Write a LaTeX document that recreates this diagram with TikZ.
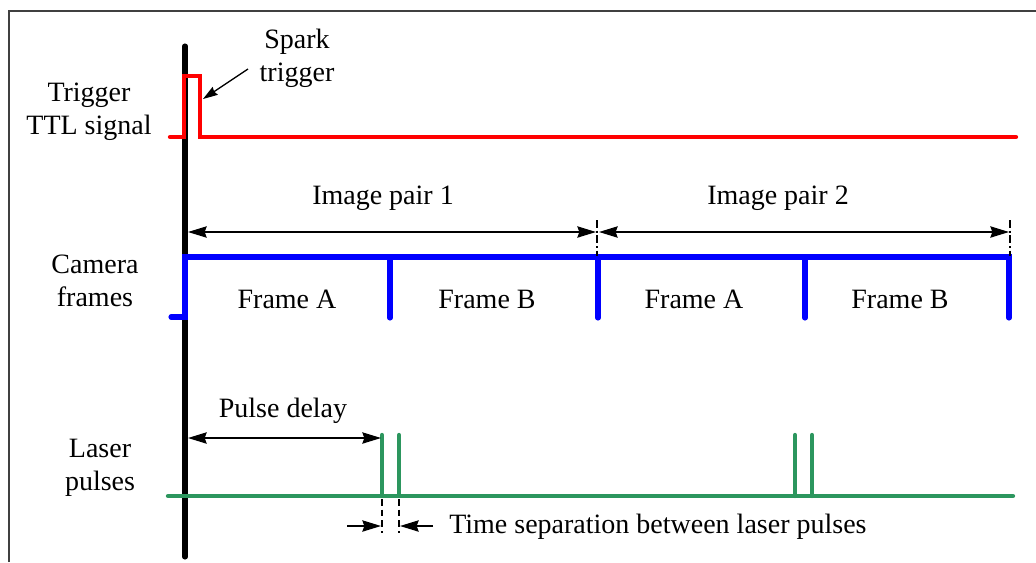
\documentclass[tikz,border=0pt]{standalone}
\usepackage{fontspec}
\setmainfont{Liberation Serif}
\usetikzlibrary{arrows.meta}
\definecolor{sigred}{RGB}{255,0,0}
\definecolor{sigblue}{RGB}{0,0,255}
\definecolor{siggreen}{RGB}{44,150,94}
\begin{document}
\begin{tikzpicture}[x=0.75pt,y=-0.75pt,
  lbl/.style={font=\fontsize{21}{24.5}\selectfont, align=center, inner sep=0pt},
  axisline/.style={line width=3.8pt, black, line cap=round},
  trace/.style={line width=#1, line join=miter, line cap=round},
  dimarrow/.style={line width=1.1pt, black,
    {Stealth[length=14pt,width=8.5pt,inset=1.5pt]}-{Stealth[length=14pt,width=8.5pt,inset=1.5pt]}},
  onearrow/.style={line width=1.1pt, black,
    -{Stealth[length=14pt,width=8.5pt,inset=1.5pt]}},
  guide/.style={line width=1pt, black, dash pattern=on 6pt off 2pt on 1.5pt off 2pt},
  dashguide/.style={line width=1pt, black, dash pattern=on 5pt off 3pt},
]
\useasboundingbox (0,0) rectangle (1036,562);

% outer frame (top and left edges)
\draw[line width=1.2pt, black!75] (9,562) -- (9,11) -- (1036,11);

% common time origin
\coordinate (t0top) at (185,46);
\coordinate (t0bot) at (185,557);
\draw[axisline] (t0top) -- (t0bot);

% ---------- trigger TTL signal ----------
\coordinate (r0) at (170,137);
\coordinate (r1) at (184,137);
\coordinate (r2) at (184,76);
\coordinate (r3) at (200,76);
\coordinate (r4) at (200,137);
\coordinate (r5) at (1016,137);
\draw[trace=3.2pt, sigred] (r0) -- (r1) -- (r2) -- (r3) -- (r4) -- (r5);

\node[lbl] (ttl) at (89,112) {Trigger\\TTL signal};
\node[lbl] (spark) at (297,58) {Spark\\trigger};
\coordinate (sparkfrom) at (248,69);
\coordinate (sparkto) at (203,99);
\draw[line width=1pt, -{Stealth[length=11pt,width=7pt,inset=1pt]}] (sparkfrom) -- (sparkto);

% ---------- camera frames ----------
\coordinate (b0) at (171,317);
\coordinate (b1) at (185,317);
\coordinate (b2) at (185,257);
\coordinate (b3) at (1009,257);
\coordinate (b4) at (1009,318);
\draw[trace=3.8pt, sigblue] (b0) -- (b1) -- (b2) -- (b3) -- (b4);
\foreach \x/\n in {390/fa, 598/fb, 805/fc}{
  \coordinate (\n top) at (\x,257);
  \coordinate (\n bot) at (\x,318);
  \draw[trace=3.8pt, sigblue] (\n top) -- (\n bot);
}

\node[lbl] (cam) at (95,281) {Camera\\frames};
\node[lbl] (frA1) at (287,299) {Frame A};
\node[lbl] (frB1) at (487,299) {Frame B};
\node[lbl] (frA2) at (694,299) {Frame A};
\node[lbl] (frB2) at (900,299) {Frame B};

% image pair extents
\coordinate (p1l) at (188,232);
\coordinate (p1r) at (596,232);
\coordinate (p2l) at (599,232);
\coordinate (p2r) at (1009,232);
\coordinate (g1top) at (597,220);
\coordinate (g1bot) at (597,256);
\coordinate (g2top) at (1010,220);
\coordinate (g2bot) at (1010,256);
\draw[guide] (g1top) -- (g1bot);
\draw[guide] (g2top) -- (g2bot);
\draw[dimarrow] (p1l) -- (p1r);
\draw[dimarrow] (p2l) -- (p2r);
\node[lbl] (ip1) at (383,198) {Image pair 1};
\node[lbl] (ip2) at (778,198) {Image pair 2};

% ---------- laser pulses ----------
\coordinate (g0) at (168,496);
\coordinate (g9) at (1013,496);
\draw[trace=3.2pt, siggreen] (g0) -- (g9);
\foreach \x/\n in {382/l1, 399/l2, 795/l3, 812/l4}{
  \coordinate (\n top) at (\x,435);
  \coordinate (\n bot) at (\x,496);
  \draw[trace=3.2pt, siggreen] (\n bot) -- (\n top);
}

\node[lbl] (las) at (100,468) {Laser\\pulses};

% pulse delay
\coordinate (pdl) at (188,438);
\coordinate (pdr) at (381,438);
\draw[dimarrow] (pdl) -- (pdr);
\node[lbl] (pd) at (283,411) {Pulse delay};

% time separation between the two pulses
\draw[dashguide] (l1bot) ++(0,3) coordinate (s1top) -- (382,533) coordinate (s1bot);
\draw[dashguide] (l2bot) ++(0,3) coordinate (s2top) -- (399,533) coordinate (s2bot);
\coordinate (sepL0) at (347,526);
\coordinate (sepL1) at (381,526);
\coordinate (sepR0) at (433,526);
\coordinate (sepR1) at (400,526);
\draw[onearrow] (sepL0) -- (sepL1);
\draw[onearrow] (sepR0) -- (sepR1);
\node[lbl, anchor=west] (sep) at (449,527) {Time separation between laser pulses};

\end{tikzpicture}
\end{document}
